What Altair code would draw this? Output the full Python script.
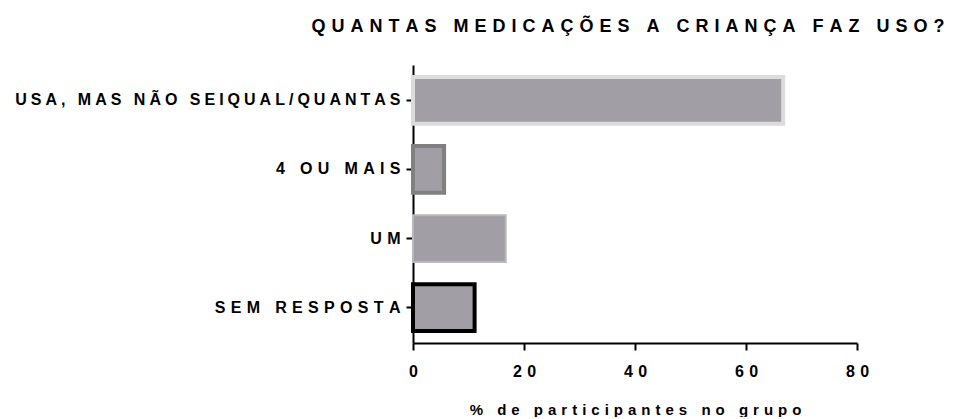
import altair as alt
import pandas as pd

# ---- data ----
categories = ["USA, MAS NÃO SEIQUAL/QUANTAS", "4 OU MAIS", "UM", "SEM RESPOSTA"]
values = [66.7, 5.6, 16.7, 11.1]
x_ticks = [0, 20, 40, 60, 80]
title_text = "QUANTAS MEDICAÇÕES A CRIANÇA FAZ USO?"
x_title = "% de participantes no grupo"

# ---- styles ----
bar_strokes = ["#dcdcdc", "#808080", "#b8b7bb", "#000000"]
bar_stroke_widths = [4, 4, 2, 4]
label_gaps = ["\u2005", "\u2004", "\u2004", "\u2004"]

GAP = "\u2004"  # emulates the wide letter spacing of the original


def spaced(text, gap=GAP):
    return gap.join(text)


FONT = "Liberation Sans"

df = pd.DataFrame({
    "label": [spaced(c, g) for c, g in zip(categories, label_gaps)],
    "value": values,
    "stroke": bar_strokes,
    "sw": bar_stroke_widths,
})

bars = alt.Chart(df).mark_bar(fill="#a19fa5").encode(
    x=alt.X(
        "value:Q",
        scale=alt.Scale(domain=[0, 80], nice=False, zero=True),
        axis=alt.Axis(
            values=x_ticks,
            title=spaced(x_title),
            labelExpr="join(split(datum.label, ''), '" + GAP + "')",
            labelFontSize=16,
            labelPadding=13,
            labelFlush=False,
            titleFontSize=15,
            titlePadding=23,
        ),
    ),
    y=alt.Y(
        "label:N",
        sort=None,
        scale=alt.Scale(paddingInner=0.324, paddingOuter=0.174),
        axis=alt.Axis(title=None, labelFontSize=16, labelPadding=6, labelLimit=0),
    ),
    stroke=alt.Stroke("stroke:N", scale=None),
    strokeWidth=alt.StrokeWidth("sw:Q", scale=None),
)

chart = bars.properties(
    width=444,
    height=278,
    autosize=alt.AutoSizeParams(type="none"),
    padding={"left": 405, "top": 57, "right": 89, "bottom": 74},
    title=alt.TitleParams(
        text=spaced(title_text),
        font=FONT,
        fontSize=18,
        fontWeight="bold",
        color="black",
        anchor="middle",
        baseline="alphabetic",
        offset=15,
        dx=-7,
    ),
).configure_view(
    stroke=None
).configure_axis(
    grid=False,
    domainColor="black",
    domainWidth=2,
    tickColor="black",
    tickWidth=2,
    tickSize=7,
    labelFont=FONT,
    labelFontWeight="bold",
    labelColor="black",
    titleFont=FONT,
    titleFontWeight="bold",
    titleColor="black",
    zindex=1,
)

chart.save("out.html", embed_options={"renderer": "svg", "actions": False})
